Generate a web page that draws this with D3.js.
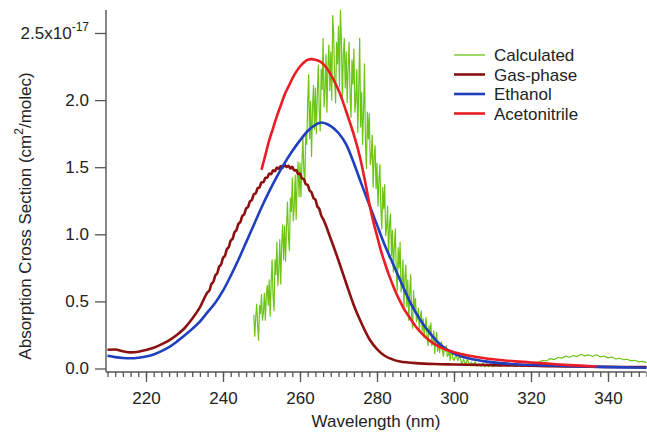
<!DOCTYPE html>
<html>
<head>
<meta charset="utf-8">
<script src="https://cdn.jsdelivr.net/npm/d3@7"></script>
<style>
  html, body { margin: 0; padding: 0; background: #fff; }
  svg { display: block; }
  text { font-family: "Liberation Sans", Arial, sans-serif; fill: #222; }
</style>
</head>
<body>
<svg id="chart" width="647" height="432"></svg>
<script>
// ---------------- DATA ----------------
const xTicksMajor = [220, 240, 260, 280, 300, 320, 340];
const yTicks = [0, 0.5, 1.0, 1.5, 2.0, 2.5];
const yTickLabels = ["0.0", "0.5", "1.0", "1.5", "2.0", "2.5x10"];
const yExponent = "-17";
const xTitle = "Wavelength (nm)";
const seriesNames = ["Calculated", "Gas-phase", "Ethanol", "Acetonitrile"];
const seriesColors = ["#6cc514", "#8c1010", "#1f3fbf", "#ec1c24"];

// Gas-phase [wavelength, cross section / 1e-17]
const gasPhase = [
  [210,0.140],[212,0.142],[214,0.128],[216,0.120],[218,0.125],[220,0.138],[222,0.155],
  [224,0.180],[226,0.210],[228,0.250],[230,0.300],[232,0.370],[234,0.455],
  [236.0,0.568],[236.5,0.583],[237.0,0.631],[237.5,0.646],[238.0,0.693],[238.5,0.710],
  [239.0,0.758],[239.5,0.775],[240.0,0.823],[240.5,0.840],[241.0,0.888],[241.5,0.905],
  [242.0,0.953],[242.5,0.968],[243.0,1.016],[243.5,1.031],[244.0,1.078],[244.5,1.091],
  [245.0,1.136],[245.5,1.148],[246.0,1.193],[246.5,1.203],[247.0,1.246],[247.5,1.256],
  [248.0,1.298],[248.5,1.305],[249.0,1.343],[249.5,1.350],[250.0,1.388],[250.5,1.388],
  [251.0,1.421],[251.5,1.421],[252.0,1.453],[252.5,1.448],[253.0,1.476],[253.5,1.471],
  [254.0,1.498],[254.5,1.487],[255.0,1.508],[255.5,1.497],[256.0,1.518],[256.5,1.502],
  [257.0,1.511],[257.5,1.491],[258.0,1.503],[258.5,1.475],[259.0,1.478],[259.5,1.450],
  [260.0,1.453],[260.5,1.416],[261.0,1.411],[261.5,1.373],[262.0,1.368],[262.5,1.325],
  [263.0,1.313],[263.5,1.270],[264.0,1.258],[264.5,1.208],[265.0,1.191],[265.5,1.141],
  [266,1.115],[268,0.965],[270,0.805],[272,0.635],[274,0.470],[276,0.335],[278,0.220],
  [280,0.145],[282,0.095],[284,0.068],[286,0.052],[288,0.045],[290,0.040],[295,0.033],
  [300,0.030],[310,0.025],[320,0.020],[330,0.015],[340,0.012],[350,0.010]
];

// Ethanol
const ethanol = [
  [210,0.095],[212,0.085],[214,0.078],[216,0.076],[218,0.080],[220,0.090],[222,0.105],
  [224,0.130],[226,0.160],[228,0.200],[230,0.245],[232,0.295],[234,0.350],[236,0.420],
  [238,0.490],[240,0.580],[242,0.690],[244,0.810],[246,0.940],[248,1.070],[250,1.200],
  [252,1.320],[254,1.430],[256,1.530],[258,1.620],[260,1.700],[262,1.770],[264,1.815],
  [265.5,1.833],[267,1.822],[268,1.806],[270,1.755],[272,1.670],[274,1.530],[276,1.372],
  [278,1.220],[280,1.070],[282,0.920],[284,0.790],[286,0.660],[288,0.530],[290,0.420],
  [292,0.330],[294,0.255],[296,0.190],[298,0.145],[300,0.112],[304,0.074],[308,0.053],
  [312,0.040],[316,0.032],[320,0.027],[330,0.018],[340,0.010],[350,0.006]
];

// Acetonitrile
const acetonitrile = [
  [250,1.480],[251,1.590],[252,1.700],[253,1.790],[254,1.880],[255,1.960],[256,2.040],
  [257,2.100],[258,2.160],[259,2.210],[260,2.250],[261,2.280],[262,2.300],[263,2.305],
  [264,2.300],[265,2.290],[266,2.270],[267,2.235],[268,2.190],[269,2.135],[270,2.075],
  [271,2.000],[272,1.915],[273,1.830],[274,1.740],[275,1.640],[276,1.520],[277,1.380],
  [278,1.230],[279,1.100],[280,0.990],[281,0.880],[282,0.790],[283,0.705],[284,0.630],
  [285,0.560],[286,0.500],[287,0.445],[288,0.400],[290,0.315],[292,0.250],[294,0.200],
  [296,0.165],[298,0.140],[300,0.122],[304,0.095],[308,0.076],[312,0.063],[316,0.053],
  [320,0.045],[325,0.035],[330,0.025],[337,0.015]
];

// Calculated (noisy trace): every 0.25 nm 248-299.75, every 0.5 nm 300-310, every 1 nm 311-350
const calcWavelengths = d3.range(248, 299.99, 0.25)
  .concat(d3.range(300, 310.01, 0.5))
  .concat(d3.range(311, 350.01, 1));
const calcValues = [
  0.40,0.24,0.38,0.48, 0.32,0.21,0.47,0.41, 0.55,0.36,0.42,0.56, 0.36,0.54,0.62,0.47,
  0.66,0.39,0.63,0.81, 0.54,0.43,0.81,0.70, 0.94,0.62,0.73,0.96, 0.63,0.93,1.07,0.81,
  1.06,0.80,1.05,1.24, 0.98,0.88,1.27,1.17, 1.42,1.10,1.21,1.44, 1.11,1.40,1.54,1.28,
  1.53,1.28,1.53,1.72, 1.47,1.38,1.76,1.67, 1.98,2.19,1.71,1.99, 1.58,1.94,2.11,1.78,
  2.09,1.75,2.05,2.26, 1.92,1.77,2.23,2.08, 2.46,1.95,2.07,2.34, 1.91,2.26,2.41,2.07,
  2.36,2.00,2.63,2.49, 2.14,1.98,2.43,2.27, 2.55,2.10,2.67,2.46, 2.00,2.33,2.46,2.09,
  2.36,1.98,2.25,2.43, 2.05,1.87,2.30,2.12, 2.38,1.91,2.00,2.23, 1.76,2.07,2.46,1.80,
  2.06,1.67,1.92,2.27, 1.69,1.49,1.91,1.71, 1.90,1.52,1.57,1.74, 1.35,1.58,1.66,1.34,
  1.53,1.21,1.40,1.52, 1.20,1.04,1.35,1.19, 1.37,0.99,1.05,1.21, 0.83,1.07,1.15,0.84,
  1.03,0.72,0.91,1.04, 0.73,0.58,0.90,0.75, 0.94,0.57,0.64,0.81, 0.44,0.68,0.77,0.46,
  0.66,0.36,0.56,0.70, 0.39,0.30,0.58,0.44, 0.52,0.35,0.38,0.45, 0.28,0.39,0.43,0.28,
  0.37,0.23,0.32,0.38, 0.24,0.17,0.32,0.25, 0.34,0.17,0.20,0.28, 0.11,0.22,0.27,0.13,
  0.20,0.12,0.17,0.20, 0.13,0.09,0.16,0.13, 0.17,0.09,0.10,0.14, 0.06,0.11,0.13,0.07,
  0.06,0.10,0.06,0.10,0.03,0.07,0.03,0.07,0.024,0.047,0.029,0.050,0.016,0.034,0.017,
  0.042,0.013,0.032,0.014,0.033,0.014,
  0.022,0.015,0.026,0.018,0.024,0.016,0.027,0.020,0.030,0.026,0.040,0.048,0.060,0.056,
  0.074,0.066,0.082,0.077,0.092,0.084,0.097,0.089,0.106,0.094,0.101,0.091,0.102,0.087,
  0.093,0.079,0.086,0.071,0.076,0.065,0.069,0.057,0.061,0.049,0.053,0.044
];
const calculated = calcWavelengths.map((w, i) => [w, calcValues[i]]);

// ---------------- DRAW ----------------
const svg = d3.select("#chart");
svg.append("rect").attr("width", 647).attr("height", 432).attr("fill", "#fff");

const x = d3.scaleLinear().domain([210, 350]).range([107.5, 646.5]);
const y = d3.scaleLinear().domain([0, 2.5]).range([368.5, 33]);
const axisColor = "#555";
const axisX0 = 106, axisY0 = 372;
const fontSize = 17;

svg.append("defs").append("clipPath").attr("id", "plotclip")
  .append("rect").attr("x", axisX0).attr("y", 8).attr("width", 647 - axisX0).attr("height", axisY0 - 8);

const lineRaw = d3.line().x(d => x(d[0])).y(d => y(d[1]));
const lineSmooth = d3.line().x(d => x(d[0])).y(d => y(d[1])).curve(d3.curveMonotoneX);
const plot = svg.append("g").attr("clip-path", "url(#plotclip)");

const seriesData = [calculated, gasPhase, ethanol, acetonitrile];
const widths = [1.2, 2.6, 2.6, 2.6];
seriesData.forEach((data, i) => {
  plot.append("path").datum(data)
    .attr("fill", "none")
    .attr("stroke", seriesColors[i])
    .attr("stroke-width", widths[i])
    .attr("stroke-linejoin", "round")
    .attr("d", i === 0 ? lineRaw : lineSmooth);
});

// X axis: minor ticks every 2 nm
const minorTicks = d3.range(210, 350.01, 2);
const gxMinor = svg.append("g").attr("transform", `translate(0,${axisY0})`)
  .call(d3.axisBottom(x).tickValues(minorTicks).tickSize(5).tickFormat(""));
const gxMajor = svg.append("g").attr("transform", `translate(0,${axisY0})`)
  .call(d3.axisBottom(x).tickValues(xTicksMajor).tickSize(10).tickPadding(10).tickFormat(d3.format("d")));
[gxMinor, gxMajor].forEach(g => {
  g.select(".domain").remove();
  g.selectAll("line").attr("stroke", axisColor).attr("stroke-width", 1.3);
});
gxMajor.selectAll("text").attr("font-size", fontSize).attr("fill", "#222")
  .attr("font-family", "Liberation Sans, Arial, sans-serif");

svg.append("line").attr("x1", axisX0).attr("x2", 646).attr("y1", axisY0).attr("y2", axisY0)
  .attr("stroke", axisColor).attr("stroke-width", 1.4);

// Y axis
const gy = svg.append("g").attr("transform", `translate(${axisX0},0)`)
  .call(d3.axisLeft(y).tickValues(yTicks).tickSize(11).tickPadding(6)
    .tickFormat((d, i) => yTickLabels[i]));
gy.select(".domain").remove();
gy.selectAll("line").attr("stroke", axisColor).attr("stroke-width", 1.3);
gy.selectAll("text").attr("font-size", fontSize).attr("fill", "#222")
  .attr("font-family", "Liberation Sans, Arial, sans-serif");
// exponent on top label
gy.selectAll(".tick").filter(d => d === 2.5).select("text")
  .append("tspan").attr("dy", -8).attr("font-size", 12).text(yExponent);
svg.append("line").attr("x1", axisX0).attr("x2", axisX0).attr("y1", 10).attr("y2", axisY0)
  .attr("stroke", axisColor).attr("stroke-width", 1.4);

// Axis titles
const yTitle = svg.append("text")
  .attr("transform", "translate(31,216) rotate(-90)")
  .attr("text-anchor", "middle").attr("font-size", fontSize);
yTitle.append("tspan").text("Absorption Cross Section (cm");
yTitle.append("tspan").attr("font-size", 12).attr("dy", -8).text("2");
yTitle.append("tspan").attr("dy", 8).text("/molec)");

svg.append("text").attr("x", 376).attr("y", 427).attr("text-anchor", "middle")
  .attr("font-size", fontSize).text(xTitle);

// Legend
const legend = svg.append("g");
seriesNames.forEach((name, i) => {
  const cy = 55 + i * 19.5;
  legend.append("line").attr("x1", 454).attr("x2", 485).attr("y1", cy).attr("y2", cy)
    .attr("stroke", seriesColors[i]).attr("stroke-width", i === 0 ? 1.3 : 2.6);
  legend.append("text").attr("x", 494).attr("y", cy + 6).attr("font-size", fontSize).text(name);
});
</script>
</body>
</html>
